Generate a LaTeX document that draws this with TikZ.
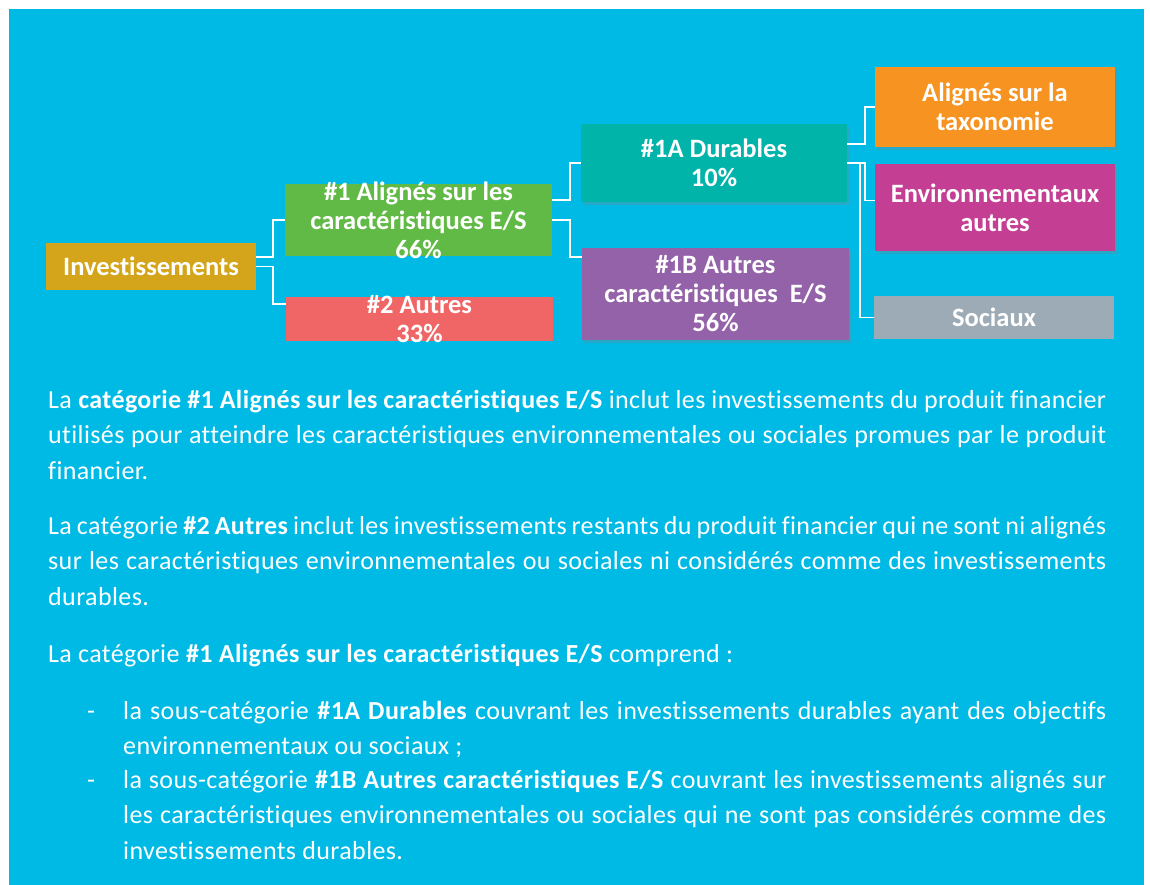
\documentclass[tikz,border=0pt]{standalone}
\usepackage{fontspec}
\setmainfont{Carlito}[Ligatures=NoCommon]
\newfontfamily\bodyfont{Carlito}[Ligatures=NoCommon, LetterSpace=1.5]
\usetikzlibrary{calc,shadows}

\definecolor{bgcyan}{RGB}{0,186,230}
\definecolor{invcol}{RGB}{212,165,27}
\definecolor{grncol}{RGB}{98,186,70}
\definecolor{redcol}{RGB}{240,102,102}
\definecolor{tealcol}{RGB}{0,180,170}
\definecolor{purpcol}{RGB}{148,98,168}
\definecolor{orgcol}{RGB}{246,147,33}
\definecolor{magcol}{RGB}{196,63,147}
\definecolor{grycol}{RGB}{156,171,181}

\tolerance=10000
\hyphenpenalty=10000

\tikzset{
  catbox/.style={fill=#1, inner sep=0pt},
  boxtxt/.style={text=white, align=center, inner sep=0pt,
    font=\bfseries\fontsize{26.5}{29}\selectfont},
  boxshadow/.style={drop shadow={shadow xshift=1.5pt, shadow yshift=-3pt, opacity=.3}},
  conn/.style={draw=white, line width=1.5pt},
  bodytext/.style={text=white, align=justify, anchor=base west, inner sep=0pt,
    font=\bodyfont\fontsize{26}{35.5}\selectfont}
}

\begin{document}
\begin{tikzpicture}[x=1pt,y=-1pt]

  \useasboundingbox (0,0) rectangle (1150,885);
  \fill[bgcyan] (9,9) rectangle (1144,885);

  % boxes
  \node[catbox=invcol, minimum width=210pt, minimum height=47pt,
    label={[boxtxt]center:Investissements}] (inv) at (151,266.5) {};
  \node[catbox=grncol, minimum width=267pt, minimum height=72pt,
    label={[boxtxt]center:{\#1 Alignés sur les\\caractéristiques E/S\\66\%}}] (grn) at (418.5,220) {};
  \node[catbox=redcol, minimum width=267pt, minimum height=44pt,
    label={[boxtxt]center:{\#2 Autres\\33\%}}] (oth) at (419.5,319) {};
  \node[catbox=tealcol, boxshadow, minimum width=266pt, minimum height=78pt,
    label={[boxtxt]center:{\#1A Durables\\10\%}}] (dur) at (714,163) {};
  \node[catbox=purpcol, boxshadow, minimum width=267pt, minimum height=92pt,
    label={[boxtxt]center:{\#1B Autres\\caractéristiques\ \ E/S\\56\%}}] (aut) at (715.5,294) {};
  \node[catbox=orgcol, boxshadow, minimum width=240pt, minimum height=80pt,
    label={[boxtxt]center:{Alignés sur la\\taxonomie}}] (tax) at (995,107) {};
  \node[catbox=magcol, boxshadow, minimum width=240pt, minimum height=87pt,
    label={[boxtxt]center:{Environnementaux\\autres}}] (env) at (995,207.5) {};
  \node[catbox=grycol, minimum width=240pt, minimum height=43pt,
    label={[boxtxt]center:Sociaux}] (soc) at (994,317.5) {};

  % connectors
  \draw[conn] ($(inv.east)+(0,-9.5)$) -- ++(17,0) |- (grn.west);
  \draw[conn] (inv.east) -- ++(17,0) |- ($(oth.west)+(0,-15)$);
  \draw[conn] ($(grn.east)+(0,-20)$) -- ++(18,0) |- (dur.west);
  \draw[conn] (grn.east) -- ++(18,0) |- ($(aut.west)+(0,-37)$);
  \draw[conn] ($(dur.east)+(0,-19)$) -- ++(18,0) |- (tax.west);
  \draw[conn] (dur.east) -- ++(18,0) |- ($(env.west)+(0,-7)$);
  \draw[conn] (dur.east) -- ++(13,0) |- (soc.west);

  % text
  \node[bodytext, text width=1058pt] (p1) at (48,408) {La \textbf{catégorie \#1 Alignés sur les caractéristiques E/S} inclut les investissements du produit financier\linebreak
    utilisés pour atteindre les caractéristiques environnementales ou sociales promues par le produit\linebreak
    financier.};
  \node[bodytext, text width=1058pt] (p2) at (48,534) {La catégorie \textbf{\#2 Autres} inclut les investissements restants du produit financier qui ne sont ni alignés\linebreak
    sur les caractéristiques environnementales ou sociales ni considérés comme des investissements\linebreak
    durables.};
  \node[bodytext, text width=1058pt] (p3) at (48,662) {La catégorie \textbf{\#1 Alignés sur les caractéristiques E/S} comprend~:};

  \node[bodytext] (d1) at (87,719) {-};
  \node[bodytext, text width=983pt] (i1) at (123,719) {la sous-catégorie \textbf{\#1A Durables} couvrant les investissements durables ayant des objectifs\linebreak
    environnementaux ou sociaux~;};
  \node[bodytext] (d2) at (87,788) {-};
  \node[bodytext, text width=983pt] (i2) at (123,788) {la sous-catégorie \textbf{\#1B Autres caractéristiques E/S} couvrant les investissements alignés sur\linebreak
    les caractéristiques environnementales ou sociales qui ne sont pas considérés comme des\linebreak
    investissements durables.};

\end{tikzpicture}
\end{document}
